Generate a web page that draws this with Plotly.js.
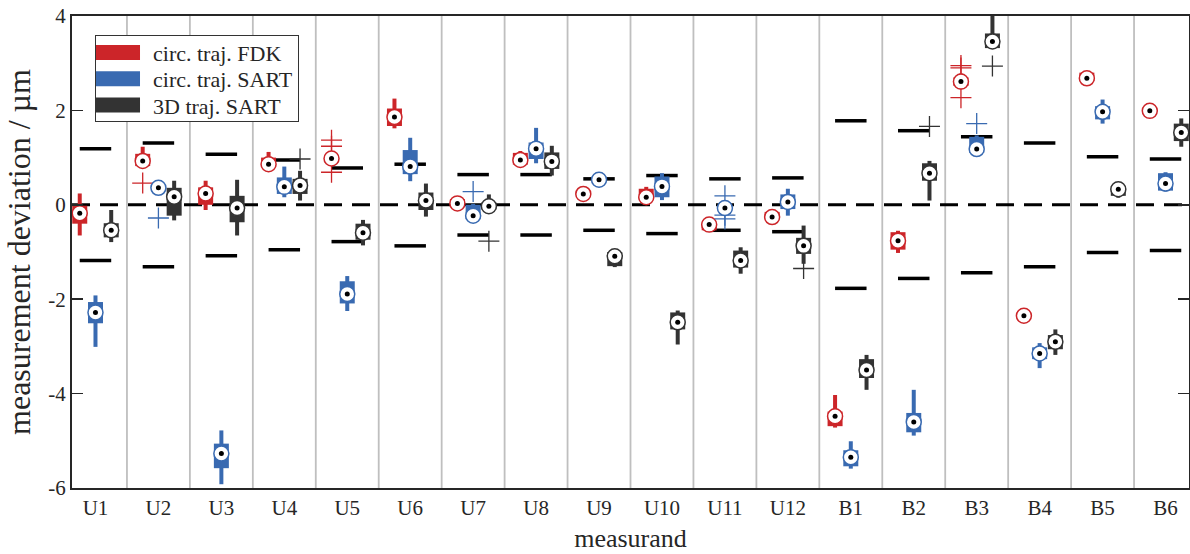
<!DOCTYPE html>
<html><head><meta charset="utf-8">
<script src="https://cdn.plot.ly/plotly-3.0.1.min.js"></script>
<style>html,body{margin:0;padding:0;background:#fff}#chart{width:1190px;height:554px}</style>
</head><body><div id="chart"></div>
<script>
const measurands = ['U1','U2','U3','U4','U5','U6','U7','U8','U9','U10','U11','U12','B1','B2','B3','B4','B5','B6'];
const seriesNames = ['circ. traj. FDK','circ. traj. SART','3D traj. SART'];

// tolerance limits
const tolUpper = [1.19,1.31,1.07,0.95,0.78,0.86,0.64,0.64,0.55,0.62,0.55,0.57,1.78,1.57,1.44,1.31,1.02,0.97];
const tolLower = [-1.18,-1.31,-1.08,-0.95,-0.78,-0.87,-0.64,-0.64,-0.54,-0.61,-0.54,-0.57,-1.77,-1.56,-1.44,-1.31,-1.01,-0.97];

// circ. traj. FDK
const fdkLow    = [-0.65,0.80,-0.11,0.76,0.90,1.62,-0.05,0.83,0.18,0.10,-0.56,-0.33,-4.72,-1.02,2.45,-2.40,2.60,1.95];
const fdkQ1     = [-0.40,0.82,0.00,0.80,0.92,1.67,-0.03,0.85,0.20,0.12,-0.54,-0.30,-4.69,-0.95,2.52,-2.38,2.62,1.97];
const fdkMedian = [-0.18,0.93,0.24,0.86,0.98,1.86,0.03,0.95,0.23,0.16,-0.42,-0.26,-4.48,-0.76,2.61,-2.35,2.68,1.99];
const fdkQ3     = [-0.02,1.08,0.37,1.00,1.04,2.04,0.12,1.10,0.27,0.34,-0.36,-0.15,-4.38,-0.58,2.70,-2.31,2.80,2.02];
const fdkHigh   = [0.24,1.23,0.51,1.12,1.08,2.25,0.14,1.14,0.29,0.38,-0.33,-0.12,-4.03,-0.55,2.78,-2.29,2.83,2.04];
const fdkOutliers = [[],[0.46],[],[],[1.37,1.24,0.69],[],[],[],[],[],[],[],[],[],[2.95,2.90,2.27],[],[],[]];

// circ. traj. SART
const sartLow    = [-3.01,0.30,-5.92,0.16,-2.25,0.50,-0.32,0.88,0.49,0.10,-0.12,-0.23,-5.59,-4.89,1.08,-3.46,1.72,0.28];
const sartQ1     = [-2.51,0.32,-5.58,0.23,-2.09,0.65,-0.30,0.97,0.50,0.16,-0.10,-0.09,-5.54,-4.82,1.10,-3.27,1.81,0.30];
const sartMedian = [-2.28,0.36,-5.27,0.38,-1.89,0.81,-0.23,1.19,0.53,0.39,-0.07,0.06,-5.35,-4.60,1.18,-3.15,1.97,0.45];
const sartQ3     = [-2.06,0.40,-5.06,0.58,-1.62,1.16,0.00,1.32,0.57,0.60,-0.03,0.22,-5.20,-4.41,1.44,-3.02,2.09,0.67];
const sartHigh   = [-1.92,0.42,-4.78,0.81,-1.51,1.42,0.02,1.63,0.58,0.67,0.00,0.34,-5.01,-3.92,1.47,-2.93,2.23,0.69];
const sartOutliers = [[],[-0.28],[],[],[],[],[0.28],[],[],[],[0.19,-0.22,-0.30],[],[],[],[1.72],[],[],[]];

// 3D traj. SART
const s3dLow    = [-0.79,-0.33,-0.65,0.09,-0.86,-0.25,-0.12,0.62,-1.32,-2.96,-1.46,-1.25,-3.92,0.09,3.30,-3.18,0.15,1.23];
const s3dQ1     = [-0.69,-0.23,-0.37,0.23,-0.74,-0.11,-0.10,0.76,-1.30,-2.64,-1.33,-1.04,-3.67,0.51,3.32,-3.06,0.19,1.35];
const s3dMedian = [-0.54,0.17,-0.07,0.41,-0.59,0.09,-0.03,0.92,-1.09,-2.49,-1.18,-0.87,-3.50,0.67,3.46,-2.90,0.33,1.53];
const s3dQ3     = [-0.39,0.36,0.19,0.55,-0.40,0.26,0.05,1.11,-1.00,-2.28,-0.97,-0.70,-3.27,0.88,3.63,-2.76,0.40,1.72];
const s3dHigh   = [-0.11,0.51,0.53,0.72,-0.32,0.45,0.22,1.25,-0.98,-2.24,-0.90,-0.44,-3.18,0.93,4.30,-2.64,0.42,1.83];
const s3dOutliers = [[],[],[],[0.97],[],[],[-0.77],[],[],[],[],[-1.35],[],[1.66],[2.94],[],[],[]];

const colors = ['#CC2529','#396AB1','#333333'];
const offsets = [-0.25, 0, 0.25];
const FONT = '"Liberation Serif", "Times New Roman", "DejaVu Serif", serif';
const TXT = '#262626';

const series = [
  [fdkLow, fdkQ1, fdkMedian, fdkQ3, fdkHigh, fdkOutliers],
  [sartLow, sartQ1, sartMedian, sartQ3, sartHigh, sartOutliers],
  [s3dLow, s3dQ1, s3dMedian, s3dQ3, s3dHigh, s3dOutliers]
];

const traces = [];
function tolTrace(vals){
  const x=[],y=[];
  vals.forEach((v,i)=>{x.push(i+1-0.25,i+1+0.25,null);y.push(v,v,null);});
  return {x,y,type:'scatter',mode:'lines',line:{color:'#000',width:3.5},showlegend:false,hoverinfo:'skip'};
}
traces.push(tolTrace(tolUpper), tolTrace(tolLower));

series.forEach((s,k)=>{
  const [lo,q1,md,q3,hi,out]=s;
  const wx=[],wy=[],bx=[],by=[],mx=[],ox=[],oy=[];
  measurands.forEach((m,i)=>{
    const xp=i+1+offsets[k];
    wx.push(xp,xp,null); wy.push(lo[i],hi[i],null);
    bx.push(xp,xp,null); by.push(q1[i],q3[i],null);
    mx.push(xp);
    out[i].forEach(v=>{ox.push(xp);oy.push(v);});
  });
  traces.push({x:wx,y:wy,type:'scatter',mode:'lines',line:{color:colors[k],width:4},showlegend:false,hoverinfo:'skip'});
  traces.push({x:bx,y:by,type:'scatter',mode:'lines',line:{color:colors[k],width:15},name:seriesNames[k],showlegend:true,hoverinfo:'skip'});
  traces.push({x:ox,y:oy,type:'scatter',mode:'markers',marker:{symbol:'cross-thin-open',size:15,color:colors[k],line:{color:colors[k],width:1.3}},showlegend:false,hoverinfo:'skip'});
  traces.push({x:mx,y:md,type:'scatter',mode:'markers',marker:{symbol:'circle',size:15,color:'#fff',line:{color:colors[k],width:1.5}},showlegend:false,hoverinfo:'skip'});
  traces.push({x:mx,y:md,type:'scatter',mode:'markers',marker:{symbol:'circle',size:5,color:'#000'},showlegend:false,hoverinfo:'skip'});
});

const shapes = [];
for(let i=1;i<measurands.length;i++){
  shapes.push({type:'line',xref:'x',yref:'paper',x0:i+0.5,x1:i+0.5,y0:0,y1:1,line:{color:'#BFBFBF',width:1.8},layer:'below'});
}
shapes.push({type:'line',xref:'paper',yref:'y',x0:0,x1:1,y0:0,y1:0,line:{color:'#000',width:3,dash:'18px,10px'},layer:'below'});

const yTicks=[-6,-4,-2,0,2,4];
const layout = {
  width:1190,height:554,
  margin:{l:72,r:1,t:16,b:66},
  paper_bgcolor:'#fff',plot_bgcolor:'#fff',
  font:{family:FONT,size:21,color:TXT},
  showlegend:true,
  legend:{x:0.0206,y:0.96,xanchor:'left',yanchor:'top',bgcolor:'#fff',bordercolor:'#333',borderwidth:1,itemwidth:47,font:{family:FONT,size:22,color:TXT},tracegroupgap:0},
  xaxis:{range:[0.627,18.373],tickvals:measurands.map((m,i)=>i+1),ticktext:measurands,ticks:'',showgrid:false,zeroline:false,showline:true,linecolor:TXT,linewidth:2,mirror:true,
         title:{text:'measurand',font:{family:FONT,size:26,color:TXT},standoff:10},tickfont:{family:FONT,size:21,color:TXT}},
  yaxis:{range:[-6,4],tickvals:yTicks,ticktext:yTicks.map(v=>String(v)),ticks:'inside',ticklen:11,tickwidth:1.5,tickcolor:TXT,showgrid:false,zeroline:false,showline:true,linecolor:TXT,linewidth:2,mirror:'ticks',
         title:{text:'measurement deviation / µm',font:{family:FONT,size:32,color:TXT},standoff:8},tickfont:{family:FONT,size:21,color:TXT}},
  shapes
};
Plotly.newPlot('chart',traces,layout,{displayModeBar:false,staticPlot:true}).then(gd=>{
  gd.querySelectorAll('.legend .legendlines path').forEach(p=>{
    p.setAttribute('d','M0,0h44');
    p.style.strokeWidth='15px';
  });
  // match the reference legend row spacing and box height
  const items = Array.from(gd.querySelectorAll('.legend .traces'));
  const parse = s => { const m = /translate\(\s*([-\d.e]+)[ ,]+([-\d.e]+)\s*\)/.exec(s||''); return m ? [parseFloat(m[1]), parseFloat(m[2])] : [0,0]; };
  const firstY = 17.7, step = 26.2, boxH = 86;
  items.forEach((g,i)=>{ const p=parse(g.getAttribute('transform')); g.setAttribute('transform','translate('+p[0]+','+(firstY+i*step)+')'); });
  const bg = gd.querySelector('.legend .bg');
  if(bg){ bg.setAttribute('height', boxH); }
});
</script></body></html>
